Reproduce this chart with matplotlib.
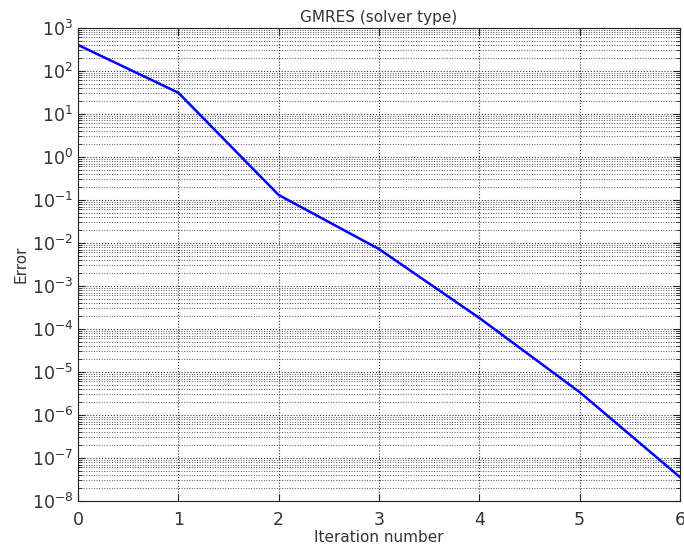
import matplotlib
matplotlib.use('Agg')
import matplotlib.pyplot as plt
import numpy as np
from matplotlib.ticker import LogLocator, NullFormatter

# datos
iteracion = [0, 1, 2, 3, 4, 5, 6]
error = [4.0e2, 3.1e1, 1.3e-1, 7.2e-3, 1.8e-4, 3.4e-6, 3.6e-8]

color_texto = '#333333'

fig = plt.figure(figsize=(6.84, 5.56), dpi=100)
ax = fig.add_axes([0.114, 0.099, 0.880, 0.851])

ax.semilogy(iteracion, error, color='#0000ff', linewidth=1.8)

ax.set_xlim(0, 6)
ax.set_ylim(1e-8, 1e3)
ax.set_xticks(iteracion)
ax.yaxis.set_major_locator(LogLocator(base=10, numticks=20))
ax.yaxis.set_minor_locator(LogLocator(base=10, subs=np.arange(2, 10), numticks=20))
ax.yaxis.set_minor_formatter(NullFormatter())

ax.grid(True, which='major', linestyle=':', color='#333333', linewidth=0.8)
ax.grid(True, which='minor', axis='y', linestyle=':', color='#555555', linewidth=0.7)

ax.tick_params(which='both', direction='in', top=True, right=True,
               labelsize=12.5, labelcolor=color_texto, color='#222222')
ax.tick_params(which='major', length=5)
ax.tick_params(which='minor', length=3)
ax.tick_params(axis='x', pad=7)
for s in ax.spines.values():
    s.set_color('#222222')

ax.set_title('GMRES (solver type)', fontsize=11, color=color_texto, pad=4)
ax.set_xlabel('Iteration number', fontsize=11, color=color_texto, labelpad=1)
ax.set_ylabel('Error', fontsize=11, color=color_texto, labelpad=2)

plt.savefig('out.png', dpi=100)
